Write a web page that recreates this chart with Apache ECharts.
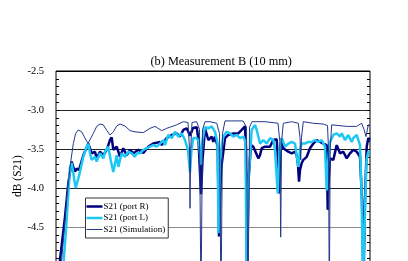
<!DOCTYPE html>
<html><head><meta charset="utf-8">
<script src="https://cdn.jsdelivr.net/npm/echarts@6/dist/echarts.min.js"></script>
<style>html,body{margin:0;padding:0;background:#fff;} #c{width:408px;height:261px;}</style>
</head><body><div id="c"></div>
<script>
// x: frequency index (arbitrary units), y: dB (S21)
const seriesNames = ['S21 (port R)', 'S21 (port L)', 'S21 (Simulation)'];
const yMin = -5.5, yMax = -2.5, yStep = 0.5;

const portR = [[2,-5.2],[4,-4.92],[9,-4.37],[12.3,-3.94],[15.7,-3.66],[17.3,-3.73],[19,-3.79],[20.7,-3.75],[23,-3.77],[27.3,-3.58],[32.3,-3.43],[35.7,-3.555],[39,-3.535],[40.7,-3.62],[44,-3.535],[47.3,-3.58],[50.7,-3.51],[54,-3.385],[55.7,-3.35],[57.3,-3.51],[60.7,-3.47],[64,-3.60],[67.3,-3.49],[70.7,-3.58],[74,-3.51],[77.3,-3.555],[82.3,-3.51],[87.3,-3.55],[92.3,-3.47],[97.3,-3.43],[104,-3.41],[105.7,-3.45],[110.7,-3.36],[115.7,-3.32],[120.7,-3.30],[124,-3.34],[127.3,-3.256],[130.7,-3.235],[132.3,-3.28],[134,-3.33],[137,-3.23],[140.7,-3.22],[142.5,-3.385],[144,-3.81],[145,-4.08],[146.5,-3.64],[149,-3.235],[152.3,-3.385],[155.7,-3.34],[157.3,-3.41],[159,-3.34],[161.7,-3.47],[163,-4.62],[165,-3.77],[169,-3.36],[172.3,-3.32],[177.3,-3.30],[179,-3.28],[182.3,-3.30],[185.7,-3.256],[187.3,-3.28],[189,-3.21],[190,-3.51],[191,-5.2],[192.5,-3.9],[195,-3.45],[197.3,-3.47],[202.3,-3.62],[204,-3.58],[205.7,-3.49],[209,-3.47],[210.7,-3.45],[214,-3.47],[217.3,-3.385],[220.7,-3.375],[222.3,-3.73],[223,-4.07],[224,-3.64],[225.7,-3.36],[227.3,-3.49],[232.3,-3.535],[235.7,-3.555],[239,-3.535],[240.7,-3.58],[242,-3.7],[243,-3.92],[244,-3.77],[245.7,-3.68],[247.3,-3.64],[250.7,-3.60],[254,-3.49],[257.3,-3.43],[260.7,-3.385],[262.3,-3.41],[264,-3.41],[267.3,-3.43],[270.7,-3.45],[271.7,-4.28],[272.7,-3.9],[274,-3.62],[277.3,-3.64],[280.7,-3.45],[284,-3.555],[287.3,-3.535],[290.7,-3.62],[294,-3.555],[297.3,-3.51],[300.7,-3.535],[304,-3.60],[306,-4.15],[307.5,-5.2],[309,-4.15],[310.7,-3.47],[312.3,-3.36],[314,-3.385]];

const portL = [[7,-5.05],[10,-4.54],[14,-3.73],[15.7,-3.68],[17.3,-3.81],[19.7,-4.00],[22.3,-3.88],[24,-3.79],[27.3,-3.60],[30.7,-3.47],[32.3,-3.43],[34,-3.555],[35.7,-3.64],[39,-3.60],[40.7,-3.66],[44,-3.555],[47.3,-3.62],[49,-3.535],[52.3,-3.47],[55,-3.66],[57.3,-3.795],[59,-3.81],[60.7,-3.58],[62.3,-3.73],[65.7,-3.555],[69,-3.60],[72.3,-3.535],[75.7,-3.555],[79,-3.60],[80.7,-3.555],[84,-3.555],[87.3,-3.51],[90.7,-3.49],[94,-3.47],[97.3,-3.45],[100.7,-3.47],[104,-3.43],[107.3,-3.385],[109,-3.45],[112.3,-3.32],[115.7,-3.36],[119,-3.28],[122.3,-3.34],[125.7,-3.30],[129,-3.385],[132,-3.51],[134,-3.80],[135.5,-3.51],[137.3,-3.36],[140.7,-3.36],[143,-3.41],[145,-3.7],[146.5,-3.385],[149,-3.22],[152.3,-3.235],[155.7,-3.21],[159,-3.28],[161.5,-3.42],[162.5,-4.58],[164,-3.64],[167.3,-3.34],[170.7,-3.28],[174,-3.30],[177.3,-3.34],[180.7,-3.32],[184,-3.36],[187.3,-3.34],[189.5,-3.41],[190.7,-5.2],[192.5,-3.9],[195.7,-3.256],[199,-3.19],[200.7,-3.256],[204,-3.43],[207.3,-3.385],[210.7,-3.43],[214,-3.36],[217.3,-3.385],[219,-3.51],[221.7,-4.07],[223.5,-3.51],[225.7,-3.36],[229,-3.47],[232.3,-3.43],[235.7,-3.41],[239,-3.43],[240.7,-3.45],[242.3,-3.73],[244,-3.51],[245.7,-3.43],[249,-3.43],[252.3,-3.41],[255.7,-3.41],[259,-3.385],[262.3,-3.41],[265.7,-3.385],[269,-3.47],[270.7,-4.03],[272.3,-3.64],[274,-3.41],[277.3,-3.32],[280.7,-3.30],[284,-3.34],[285.7,-3.30],[289,-3.385],[292.3,-3.32],[295.7,-3.41],[297.3,-3.36],[300.7,-3.32],[304,-3.45],[305.5,-4.03],[307,-5.2],[309,-5.2],[310.5,-3.64],[312.3,-3.535],[314,-3.535]];

const simulation = [[1,-5.2],[5.7,-4.92],[10.7,-4.15],[14,-3.73],[17.3,-3.43],[19.7,-3.30],[22.3,-3.256],[25.7,-3.28],[29,-3.36],[32,-3.43],[34,-3.41],[37.3,-3.30],[40.7,-3.21],[44,-3.18],[47.3,-3.19],[50.7,-3.26],[54,-3.32],[57.3,-3.28],[60.7,-3.205],[64,-3.18],[69,-3.205],[74,-3.265],[79,-3.28],[87.3,-3.29],[89,-3.30],[94,-3.235],[99,-3.21],[105.7,-3.265],[110.7,-3.235],[120.7,-3.19],[127.3,-3.15],[132,-3.16],[133.5,-3.5],[134,-4.26],[134.7,-3.5],[136,-3.16],[140.7,-3.15],[143.5,-3.25],[145,-5.5],[146.5,-3.25],[149,-3.15],[154,-3.15],[160.7,-3.17],[163.5,-3.3],[165,-5.5],[166.5,-3.3],[169,-3.14],[187,-3.14],[190.5,-3.22],[192,-5.5],[193.5,-3.22],[196,-3.15],[209,-3.15],[222,-3.17],[223.8,-3.4],[224.7,-4.63],[225.6,-3.4],[227.3,-3.17],[235.7,-3.15],[242.3,-3.17],[244,-3.35],[244.7,-3.64],[245.5,-3.35],[247.3,-3.15],[257.3,-3.17],[267.3,-3.18],[271.5,-3.2],[272.5,-3.5],[273.3,-5.5],[274.2,-3.5],[275.7,-3.19],[290.7,-3.21],[300.7,-3.21],[305.7,-3.17],[308,-3.25],[310,-3.34],[312.3,-3.19],[314,-3.2]];

const serif = '"Liberation Serif", "DejaVu Serif", serif';
const chart = echarts.init(document.getElementById('c'), null, {renderer: 'canvas'});

const axisCommon = {
  type: 'value', min: yMin, max: yMax, interval: yStep,
  axisLine: {show: false},
  axisTick: {show: true, inside: true, length: 3, lineStyle: {color: '#000', width: 1}},
  minorTick: {show: true, splitNumber: 5, length: 3, lineStyle: {color: '#000', width: 1}}
};

const colors = ['#00007f', '#1ec8f5', '#23398a'];
const widths = [2.5, 2.5, 1];

chart.setOption({
  animation: false,
  backgroundColor: '#fff',
  title: {
    text: '(b) Measurement B (10 mm)', left: 150.5, top: 56, padding: 0,
    textStyle: {fontFamily: serif, fontSize: 12.3, fontWeight: 'normal', color: '#000'}
  },
  grid: {left: 56, top: 71, width: 314, height: 234, outerBoundsMode: 'none', containLabel: false,
    show: true, borderColor: '#000', borderWidth: 1, backgroundColor: 'transparent'},
  xAxis: {type: 'value', min: 0, max: 314, show: false},
  yAxis: [
    Object.assign({}, axisCommon, {
      position: 'left',
      axisLabel: {show: true, margin: 12, color: '#000', fontFamily: serif, fontSize: 10.5,
        formatter: v => (v < -4.75 ? '' : v.toFixed(1))},
      splitLine: {show: true, lineStyle: {color: ['#000', '#000', '#8a8a8a', '#222', '#222', '#222', '#000'], width: 1}}
    }),
    Object.assign({}, axisCommon, {
      position: 'right',
      axisLabel: {show: false},
      splitLine: {show: false}
    })
  ],
  legend: {
    orient: 'vertical', left: 85.5, top: 198, padding: [4, 3, 4, 1],
    itemWidth: 16, itemHeight: 8, itemGap: 2.5, symbolKeepAspect: true,
    backgroundColor: '#fff', borderColor: '#333', borderWidth: 1, borderRadius: 0,
    textStyle: {fontFamily: serif, fontSize: 9, color: '#000', padding: [0, 0, 0, -4]},
    data: seriesNames.map((n, i) => ({name: n, icon: 'path://M0,0H16V' + widths[i] + 'H0Z', itemStyle: {color: colors[i]}}))
  },
  graphic: [{
    type: 'text', x: 17.5, y: 176, rotation: Math.PI / 2,
    style: {text: 'dB (S21)', font: '11.5px "Liberation Serif"', fill: '#000', textAlign: 'center', textVerticalAlign: 'middle'}
  }],
  series: [
    {name: seriesNames[0], type: 'line', data: portR, symbol: 'none', clip: true,
      lineStyle: {color: colors[0], width: widths[0]}, itemStyle: {color: colors[0]}},
    {name: seriesNames[1], type: 'line', data: portL, symbol: 'none', clip: true,
      lineStyle: {color: colors[1], width: widths[1]}, itemStyle: {color: colors[1]}},
    {name: seriesNames[2], type: 'line', data: simulation, symbol: 'none', clip: true,
      lineStyle: {color: colors[2], width: widths[2]}, itemStyle: {color: colors[2]}}
  ]
});
</script></body></html>
